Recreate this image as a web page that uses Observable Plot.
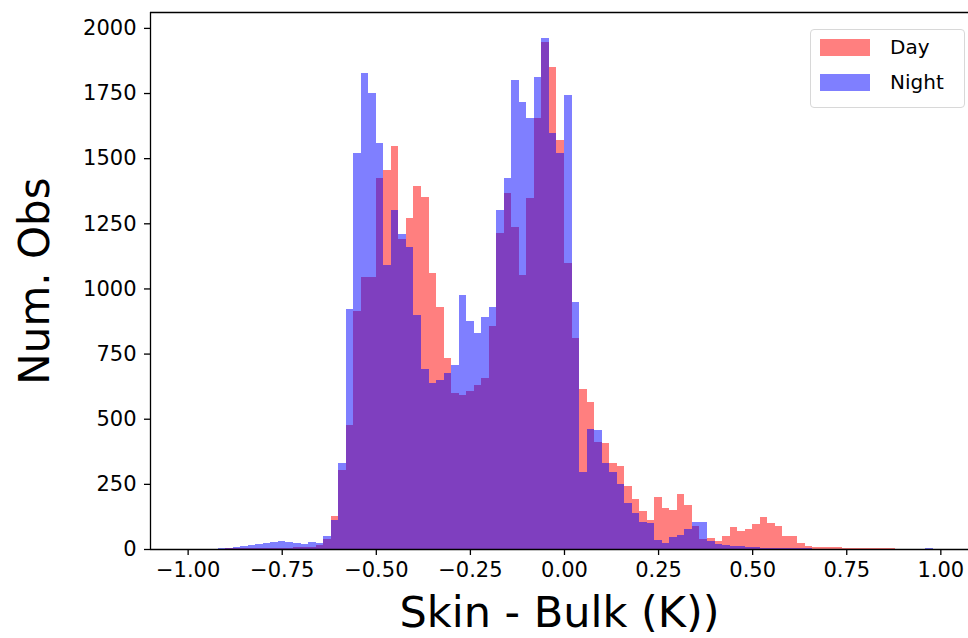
<!DOCTYPE html>
<html>
<head>
<meta charset="utf-8">
<script src="https://cdn.jsdelivr.net/npm/d3@7"></script>
<script src="https://cdn.jsdelivr.net/npm/@observablehq/plot@0.6"></script>
<style>
  html, body { margin: 0; padding: 0; background: #fff; overflow: hidden; }
  #wrap { position: relative; width: 968px; height: 638px; font-family: "DejaVu Sans", sans-serif; }
  #legend { position: absolute; left: 810px; top: 29px; width: 153px; height: 77px;
            border: 1px solid #d8d8d8; border-radius: 4px; background: rgba(255,255,255,0.8); }
  .item { position: absolute; left: 9px; height: 18px; display: flex; align-items: center; }
  .sw { width: 50px; height: 17px; margin-right: 20px; }
  .lab { font-size: 20px; color: #000; line-height: 18px; }
</style>
</head>
<body>
<div id="wrap"><div id="chart"></div>
  <div id="legend">
    <div class="item" style="top:8px"><div class="sw" style="background:rgba(255,0,0,0.5)"></div><div class="lab">Day</div></div>
    <div class="item" style="top:43px"><div class="sw" style="background:rgba(0,0,255,0.5)"></div><div class="lab">Night</div></div>
  </div>
</div>
<script>
// Histogram bin edges (100 bins of 0.02 K from -1 to 1)
const binLefts = d3.range(100).map(i => -1 + i * 0.02);
const binWidth = 0.02;

// Counts per bin
const day = [
  0, 0, 0, 0, 1, 2, 2, 3, 3, 4,
  4, 5, 5, 5, 6, 6, 8, 15, 38, 125,
  305, 475, 915, 1045, 1045, 1423, 1455, 1545, 1190, 1270,
  1395, 1350, 1058, 930, 732, 598, 591, 608, 630, 655,
  856, 1212, 1365, 1237, 1052, 1346, 1653, 1945, 1850, 1570,
  1097, 809, 615, 565, 410, 405, 330, 320, 240, 190,
  145, 110, 200, 158, 150, 210, 168, 90, 38, 42,
  32, 50, 86, 70, 78, 97, 124, 100, 90, 50,
  48, 22, 12, 9, 8, 7, 6, 5, 5, 4,
  3, 3, 2, 2, 1, 1, 1, 1, 0, 0
];
const night = [
  0, 0, 0, 0, 2, 5, 8, 12, 15, 18,
  22, 28, 30, 26, 22, 20, 25, 22, 50, 110,
  330, 920, 1520, 1826, 1750, 1557, 1090, 1301, 1210, 1160,
  900, 690, 636, 649, 674, 706, 975, 875, 830, 890,
  930, 1301, 1423, 1800, 1717, 1653, 1813, 1963, 1596, 1520,
  1743, 949, 295, 462, 455, 330, 297, 250, 175, 140,
  105, 100, 35, 22, 45, 55, 75, 105, 105, 30,
  18, 14, 12, 10, 8, 6, 5, 4, 4, 3,
  3, 2, 2, 1, 1, 1, 1, 1, 1, 1,
  0, 0, 0, 0, 0, 0, 0, 1, 5, 0
];

const xTicks = [-1, -0.75, -0.5, -0.25, 0, 0.25, 0.5, 0.75, 1];
const yTicks = [0, 250, 500, 750, 1000, 1250, 1500, 1750, 2000];
const xLabel = "Skin - Bulk (K))";
const yLabel = "Num. Obs";

const bins = binLefts.map((x, i) => ({x1: x, x2: x + binWidth, day: day[i], night: night[i]}));

const yMax = 2061;
const xDomain = [-1.1, 1.0735];

const chart = Plot.plot({
  width: 968,
  height: 638,
  marginLeft: 150,
  marginRight: 0,
  marginTop: 12,
  marginBottom: 89,
  style: {fontFamily: "DejaVu Sans", background: "white", color: "black"},
  x: {domain: xDomain},
  y: {domain: [0, yMax]},
  marks: [
    Plot.rectY(bins, {x1: "x1", x2: "x2", y: "day", fill: "#ff0000", fillOpacity: 0.5, shapeRendering: "crispEdges"}),
    Plot.rectY(bins, {x1: "x1", x2: "x2", y: "night", fill: "#0000ff", fillOpacity: 0.5, shapeRendering: "crispEdges"}),
    Plot.ruleY([0], {stroke: "black", strokeWidth: 1.3}),
    Plot.ruleY([yMax], {stroke: "black", strokeWidth: 1.3}),
    Plot.ruleX([xDomain[0]], {stroke: "black", strokeWidth: 1.3}),
    Plot.axisX({ticks: xTicks, tickFormat: d => d.toFixed(2).replace("-", "\u2212"), tickSize: 6, tickPadding: 7, fontSize: 21, strokeWidth: 1.3, label: null}),
    Plot.axisY({ticks: yTicks, tickFormat: d => String(d), tickSize: 6, tickPadding: 8, fontSize: 21, strokeWidth: 1.3, label: null}),
    Plot.text([xLabel], {frameAnchor: "bottom", dy: 77, fontSize: 43, fill: "black"}),
    Plot.text([yLabel], {frameAnchor: "left", textAnchor: "middle", dx: -115, rotate: -90, fontSize: 42, fill: "black"})
  ]
});
document.getElementById("chart").appendChild(chart);
</script>
</body>
</html>
